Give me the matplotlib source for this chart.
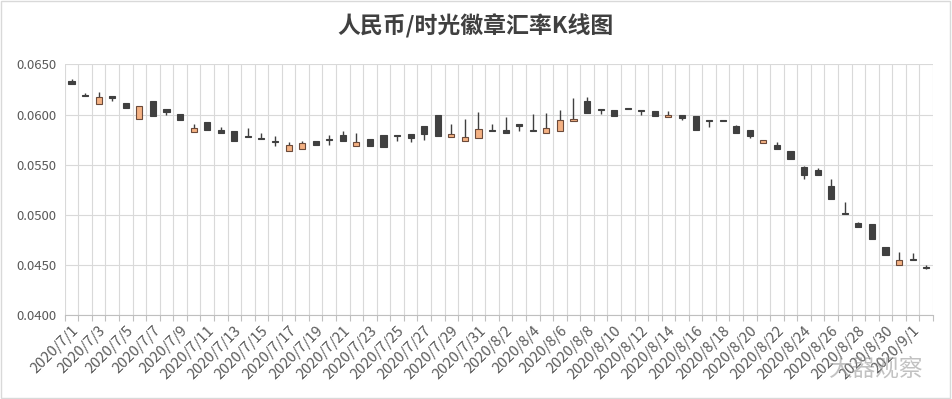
import matplotlib
matplotlib.use("Agg")
import matplotlib.pyplot as plt
import numpy as np
import pandas as pd
from matplotlib.patches import Rectangle

plt.rcParams['font.family'] = ['Noto Sans CJK SC', 'DejaVu Sans']

dates = [f"{d.year}/{d.month}/{d.day}" for d in pd.date_range("2020-07-01", "2020-09-02")]

open_ = [0.0633, 0.0620, 0.0611, 0.0619, 0.0612, 0.0596, 0.0614, 0.0606, 0.0601, 0.0583,
         0.0593, 0.0585, 0.0584, 0.0579, 0.0577, 0.0574, 0.0564, 0.0566, 0.0574, 0.0576,
         0.0580, 0.0569, 0.0576, 0.0580, 0.0580, 0.0581, 0.0589, 0.0600, 0.0578, 0.0574,
         0.0577, 0.0585, 0.0585, 0.0591, 0.0585, 0.0582, 0.0584, 0.0594, 0.0614, 0.0606,
         0.0605, 0.0607, 0.0605, 0.0604, 0.0598, 0.0600, 0.0599, 0.0595, 0.0595, 0.0589,
         0.0585, 0.0572, 0.0570, 0.0564, 0.0548, 0.0545, 0.0529, 0.0502, 0.0492, 0.0491,
         0.0468, 0.0450, 0.0456, 0.0448]
high = [0.0635, 0.0622, 0.0623, 0.0619, 0.0612, 0.0609, 0.0614, 0.0606, 0.0601, 0.0591,
        0.0593, 0.0588, 0.0584, 0.0587, 0.0582, 0.0579, 0.0573, 0.0574, 0.0574, 0.0580,
        0.0584, 0.0582, 0.0576, 0.0580, 0.0580, 0.0581, 0.0589, 0.0600, 0.0591, 0.0596,
        0.0603, 0.0591, 0.0598, 0.0591, 0.0601, 0.0602, 0.0605, 0.0617, 0.0618, 0.0606,
        0.0605, 0.0607, 0.0605, 0.0604, 0.0604, 0.0600, 0.0599, 0.0595, 0.0595, 0.0590,
        0.0585, 0.0575, 0.0573, 0.0564, 0.0549, 0.0547, 0.0536, 0.0513, 0.0493, 0.0491,
        0.0468, 0.0463, 0.0462, 0.0450]
low = [0.0630, 0.0619, 0.0611, 0.0614, 0.0607, 0.0596, 0.0599, 0.0600, 0.0595, 0.0583,
       0.0585, 0.0582, 0.0574, 0.0578, 0.0576, 0.0569, 0.0564, 0.0566, 0.0570, 0.0570,
       0.0574, 0.0569, 0.0569, 0.0568, 0.0574, 0.0573, 0.0575, 0.0579, 0.0578, 0.0574,
       0.0577, 0.0584, 0.0582, 0.0584, 0.0584, 0.0582, 0.0584, 0.0594, 0.0602, 0.0601,
       0.0599, 0.0606, 0.0600, 0.0599, 0.0598, 0.0595, 0.0585, 0.0588, 0.0594, 0.0582,
       0.0577, 0.0572, 0.0566, 0.0556, 0.0536, 0.0540, 0.0516, 0.0501, 0.0488, 0.0476,
       0.0460, 0.0450, 0.0455, 0.0446]
close = [0.0630, 0.0619, 0.0618, 0.0617, 0.0607, 0.0609, 0.0599, 0.0603, 0.0595, 0.0587,
         0.0585, 0.0582, 0.0574, 0.0578, 0.0576, 0.0573, 0.0570, 0.0572, 0.0570, 0.0575,
         0.0574, 0.0573, 0.0569, 0.0568, 0.0579, 0.0577, 0.0581, 0.0579, 0.0581, 0.0578,
         0.0586, 0.0584, 0.0582, 0.0589, 0.0584, 0.0587, 0.0595, 0.0596, 0.0602, 0.0605,
         0.0599, 0.0606, 0.0604, 0.0599, 0.0600, 0.0597, 0.0585, 0.0594, 0.0594, 0.0582,
         0.0579, 0.0575, 0.0566, 0.0556, 0.0540, 0.0540, 0.0516, 0.0501, 0.0488, 0.0476,
         0.0460, 0.0455, 0.0455, 0.0447]

o = np.array(open_)
c = np.array(close)
h = np.array(high)
l = np.array(low)
x = np.arange(len(dates))
up = c > o

fig = plt.figure(figsize=(9.52, 3.99), dpi=100)
ax = fig.add_axes([0.068, 0.2105, 0.912, 0.628])
fig.patches.append(Rectangle((0.001, 0.002), 0.997, 0.995, transform=fig.transFigure,
                             fill=False, edgecolor='#D9D9D9', linewidth=1))

# wicks
ax.vlines(x, l, h, color='#404040', linewidth=1, zorder=2)
# bodies
body_bot = np.minimum(o, c)
body_h = np.maximum(np.abs(c - o), 0.00008)
ax.bar(x[~up], body_h[~up], bottom=body_bot[~up], width=0.45,
       color='#404040', edgecolor='#404040', linewidth=0.8, zorder=3)
ax.bar(x[up], body_h[up], bottom=body_bot[up], width=0.45,
       color='#F4B183', edgecolor='#6b4a3a', linewidth=0.8, zorder=3)

ax.set_xlim(-0.5, len(dates) - 0.5)
ax.set_ylim(0.04, 0.065)
ax.set_yticks(np.arange(0.040, 0.0651, 0.005))
ax.set_yticklabels([f"{v:.4f}" for v in np.arange(0.040, 0.0651, 0.005)])
ax.set_xticks(x[::2])
ax.set_xticklabels(dates[::2], rotation=45, ha='right', rotation_mode='anchor')
ax.set_xticks(np.arange(-0.5, len(dates), 1), minor=True)
ax.tick_params(axis='x', which='major', length=0, pad=6, labelsize=10.5, colors='#595959')
ax.tick_params(axis='x', which='minor', length=4, color='#BFBFBF', width=0.8)
ax.tick_params(axis='y', length=0, labelsize=9.5, colors='#595959', pad=6)

ax.grid(True, axis='y', color='#D9D9D9', linewidth=0.8, zorder=0)
ax.grid(True, axis='x', which='minor', color='#D9D9D9', linewidth=0.8, zorder=0)
ax.set_axisbelow(True)
for s in ['top', 'left', 'right']:
    ax.spines[s].set_visible(False)
ax.spines['bottom'].set_color('#BFBFBF')

fig.text(0.5, 0.935, "人民币/时光徽章汇率K线图", ha='center', va='center',
         fontsize=16.5, fontweight='bold', color='#404040')
fig.text(0.97, 0.075, "大器观察", ha='right', va='center', fontsize=17,
         color='#9a9a9a', alpha=0.6)

fig.savefig("out.png", dpi=100)
